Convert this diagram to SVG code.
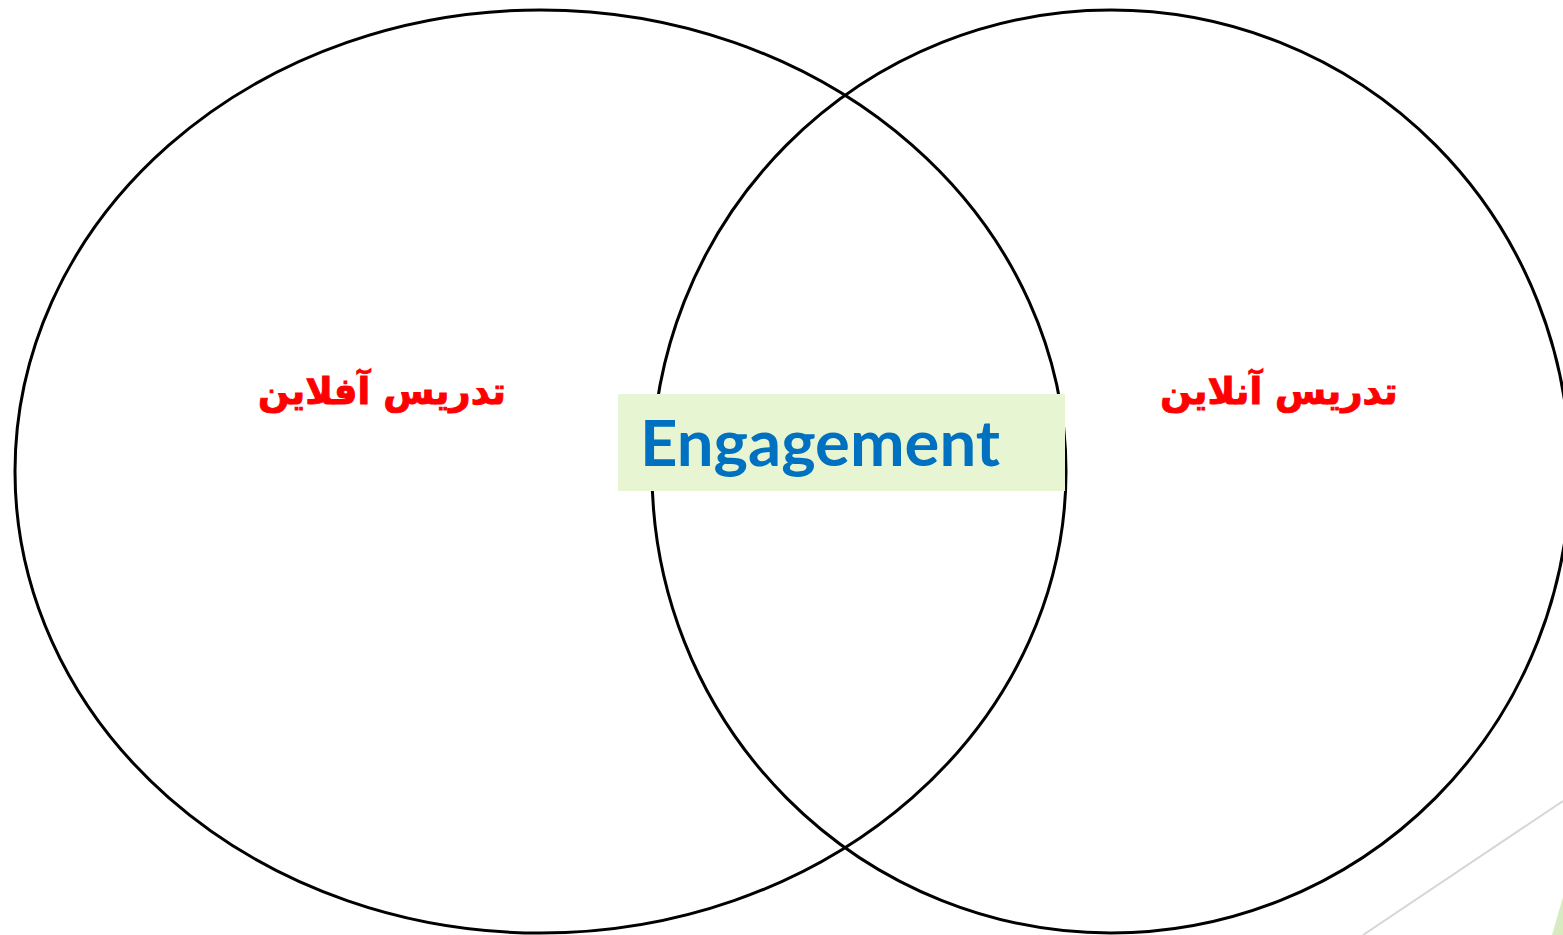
<svg xmlns="http://www.w3.org/2000/svg" width="1563" height="935" viewBox="0 0 1563 935">
<style>
.ring{fill:none;stroke:#000;stroke-width:3}
.fa{font-family:"DejaVu Sans","Noto Sans",sans-serif;font-weight:bold;font-size:37px;fill:#ff0000;stroke:#ff0000;stroke-width:1;text-anchor:middle}
.en{font-family:Lato,"Open Sans",sans-serif;font-weight:bold;font-size:64px;fill:#0070c0}
</style>
<rect width="1563" height="935" fill="#fff"/>
<g id="decor">
<line x1="1363" y1="935" x2="1563" y2="801" stroke="#d6d6d6" stroke-width="2"/>
<polygon points="1552,935 1563,897 1563,935" fill="#d8ebc0"/>
</g>
<g id="offline">
<ellipse class="ring" cx="540.5" cy="471.5" rx="525.5" ry="461.5"/>
<text class="fa" x="382" y="404" direction="rtl">تدریس آفلاین</text>
</g>
<g id="online">
<ellipse class="ring" cx="1111" cy="471.5" rx="459" ry="461.5"/>
<text class="fa" x="1279" y="404" direction="rtl">تدریس آنلاین</text>
</g>
<g id="engagement">
<rect x="618" y="394" width="447" height="97" fill="#e8f5d3"/>
<text class="en" x="640" y="466" textLength="360" lengthAdjust="spacingAndGlyphs">Engagement</text>
</g>
</svg>
